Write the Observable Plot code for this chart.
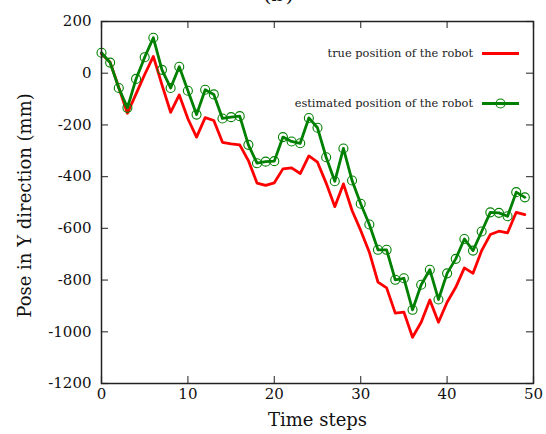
<!DOCTYPE html>
<html>
<head>
<meta charset="utf-8">
<script src="https://cdn.jsdelivr.net/npm/d3@7"></script>
<script src="https://cdn.jsdelivr.net/npm/@observablehq/plot@0.6"></script>
<style>
  html, body { margin: 0; padding: 0; background: #fff; }
  #chart svg { display: block; }
</style>
</head>
<body>
<div id="chart"></div>
<script>
// Time steps 0..49
const steps = d3.range(50);

// Ground-truth Y pose of the robot (mm)
const trueY = [75, 42, -55, -155, -80, -5, 65, -45, -151, -84,
  -176, -247, -172, -183, -267, -273, -277, -338, -425, -434,
  -424, -370, -366, -388, -320, -344, -425, -516, -428, -531,
  -608, -692, -808, -830, -928, -924, -1021, -963, -877, -963,
  -886, -828, -753, -774, -686, -624, -611, -617, -538, -547];

// Estimated Y pose of the robot (mm)
const estY = [79, 41, -57, -134, -22, 62, 137, 13, -57, 25,
  -68, -160, -64, -82, -175, -170, -166, -277, -348, -342,
  -340, -247, -264, -271, -173, -211, -325, -418, -291, -415,
  -505, -585, -683, -683, -799, -793, -915, -818, -760, -875,
  -774, -718, -641, -686, -612, -538, -540, -553, -460, -480];

// Axis ticks
const xTicks = [0, 10, 20, 30, 40, 50];
const yTicks = [200, 0, -200, -400, -600, -800, -1000, -1200];

const seriesNames = ["true position of the robot", "estimated position of the robot"];
const seriesColors = ["#ff0000", "#008000"];

const W = 546, H = 434;
const mL = 101, mR = 13, mT = 21, mB = 51;
const fw = W - mL - mR, fh = H - mT - mB;
const tickLen = 7;
const font = "DejaVu Serif";

const trueData = steps.map((t, i) => ({t, y: trueY[i]}));
const estData = steps.map((t, i) => ({t, y: estY[i]}));

// Legend drawn inside the frame, top-right, as a custom render mark
function legend(index, scales, values, dims) {
  const g = d3.create("svg:g");
  const right = dims.width - dims.marginRight;
  const rows = [
    {name: seriesNames[0], color: seriesColors[0], y: dims.marginTop + 32.5, dot: false},
    {name: seriesNames[1], color: seriesColors[1], y: dims.marginTop + 82.5, dot: true}
  ];
  for (const r of rows) {
    g.append("text")
      .attr("x", right - 60).attr("y", r.y).attr("dy", "0.35em")
      .attr("text-anchor", "end")
      .attr("font-family", font).attr("font-size", 11.4)
      .attr("fill", "#222")
      .text(r.name);
    g.append("line")
      .attr("x1", right - 51).attr("x2", right - 14)
      .attr("y1", r.y).attr("y2", r.y)
      .attr("stroke", r.color).attr("stroke-width", 2.8);
    if (r.dot) {
      g.append("circle")
        .attr("cx", right - 32.5).attr("cy", r.y).attr("r", 4.5)
        .attr("fill", "none").attr("stroke", r.color).attr("stroke-width", 1.1);
    }
  }
  return g.node();
}

const chart = Plot.plot({
  width: W,
  height: H,
  marginLeft: mL,
  marginRight: mR,
  marginTop: mT,
  marginBottom: mB,
  style: {fontFamily: font, background: "#fff", color: "#111", overflow: "visible"},
  x: {domain: [0, 50]},
  y: {domain: [-1200, 200]},
  marks: [
    // inward tick marks on all four sides
    Plot.tickX(xTicks, {x: d => d, insetTop: fh - tickLen, stroke: "#444", strokeWidth: 1.2}),
    Plot.tickX(xTicks, {x: d => d, insetBottom: fh - tickLen, stroke: "#444", strokeWidth: 1.2}),
    Plot.tickY(yTicks, {y: d => d, insetRight: fw - tickLen, stroke: "#444", strokeWidth: 1.2}),
    Plot.tickY(yTicks, {y: d => d, insetLeft: fw - tickLen, stroke: "#444", strokeWidth: 1.2}),
    Plot.axisX({ticks: xTicks, tickSize: 0, tickPadding: 5, fontSize: 15, label: null, tickFormat: d => String(d)}),
    Plot.axisY({ticks: yTicks, tickSize: 0, tickPadding: 10, fontSize: 15, label: null, tickFormat: d => d < 0 ? "-" + Math.abs(d) : String(d)}),
    Plot.line(trueData, {x: "t", y: "y", stroke: seriesColors[0], strokeWidth: 2.8}),
    Plot.line(estData, {x: "t", y: "y", stroke: seriesColors[1], strokeWidth: 2.8}),
    Plot.dot(estData, {x: "t", y: "y", r: 4.5, stroke: seriesColors[1], fill: "none", strokeWidth: 1.1}),
    Plot.frame({stroke: "#222", strokeWidth: 1.5}),
    // axis titles
    Plot.text(["Time steps"], {frameAnchor: "bottom", dy: 37, lineAnchor: "middle", fontSize: 18, fill: "#111"}),
    Plot.text(["Pose in Y direction (mm)"], {frameAnchor: "left", textAnchor: "middle", dy: 3, dx: -76, rotate: -90, lineAnchor: "middle", fontSize: 18, fill: "#111"}),
    // panel title
    Plot.text(["(b)"], {frameAnchor: "top", dx: -39, dy: -21, lineAnchor: "bottom", fontSize: 22, fill: "#111"}),
    legend
  ]
});

document.getElementById("chart").appendChild(chart);
</script>
</body>
</html>
